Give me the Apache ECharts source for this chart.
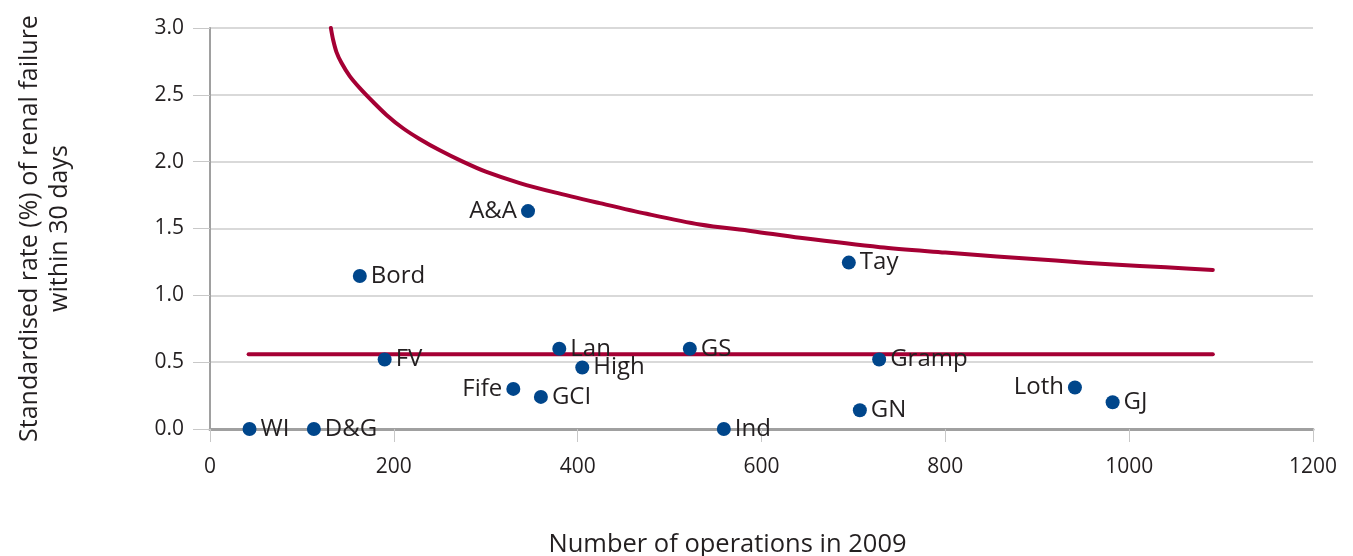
<!DOCTYPE html>
<html>
<head>
<meta charset="utf-8">
<script src="https://cdn.jsdelivr.net/npm/echarts@6/dist/echarts.min.js"></script>
<style>
  html, body { margin: 0; padding: 0; background: #fff; }
  #chart { width: 1353px; height: 556px; }
</style>
</head>
<body>
<div id="chart"></div>
<script>
// health boards: number of operations in 2009 vs standardised rate (%)
const boards = ['WI', 'D&G', 'Bord', 'FV', 'A&A', 'Fife', 'GCI', 'Lan', 'High', 'GS', 'Ind', 'Tay', 'GN', 'Gramp', 'Loth', 'GJ']
const operations = [43, 113, 163, 190, 346, 330, 360, 380, 405, 522, 559, 695, 707, 728, 941, 982]
const rates = [0, 0, 1.145, 0.52, 1.63, 0.30, 0.24, 0.60, 0.46, 0.60, 0, 1.245, 0.14, 0.52, 0.31, 0.20]
// boards whose label sits left of the dot
const labelLeft = ['A&A', 'Fife', 'Loth']

// overall average line
const meanX = [42, 1091]
const meanY = [0.56, 0.56]

// upper control limit
const limitX = [131.5, 134, 137.6, 143, 152, 163, 177, 192, 210, 228, 250, 275, 300, 337, 375, 424, 475, 533, 590, 642, 729, 800, 856, 920, 983, 1040, 1091]
const limitY = [3.0, 2.91, 2.82, 2.74, 2.64, 2.55, 2.45, 2.35, 2.25, 2.17, 2.085, 2.0, 1.925, 1.84, 1.77, 1.69, 1.61, 1.53, 1.48, 1.43, 1.36, 1.32, 1.29, 1.26, 1.23, 1.21, 1.19]

const xTicks = [0, 200, 400, 600, 800, 1000, 1200]

const font = 'Open Sans'
const red = '#a50034'
const blue = '#00468b'
const ink = '#231f20'

const chart = echarts.init(document.getElementById('chart'))

const points = boards.map((b, i) => ({
  name: b,
  value: [operations[i], rates[i]],
  label: { position: labelLeft.includes(b) ? 'left' : 'right' }
}))

chart.setOption({
  animation: false,
  grid: { left: 210, right: 40, top: 28, bottom: 127, outerBoundsMode: 'none' },
  xAxis: {
    type: 'value',
    min: xTicks[0],
    max: xTicks[xTicks.length - 1],
    interval: 200,
    name: 'Number of operations in 2009',
    nameLocation: 'middle',
    nameGap: 103,
    nameTextStyle: { fontFamily: font, fontSize: 25.5, color: ink, padding: [0, 68, 0, 0] },
    axisLine: { lineStyle: { color: '#a0a0a0', width: 3 } },
    axisTick: { show: true, length: 13, lineStyle: { color: '#c8c8c8' } },
    axisLabel: { fontFamily: font, fontSize: 21, color: ink, margin: 28, formatter: v => String(v) },
    splitLine: { show: false }
  },
  yAxis: {
    type: 'value',
    min: 0,
    max: 3,
    interval: 0.5,
    name: 'Standardised rate (%) of renal failure\nwithin 30 days',
    nameLocation: 'middle',
    nameGap: 135,
    nameRotate: 90,
    nameTextStyle: { fontFamily: font, fontSize: 25, color: ink, lineHeight: 30 },
    axisLine: { show: true, lineStyle: { color: '#a0a0a0', width: 2 } },
    axisTick: { show: true, length: 17, lineStyle: { color: '#c8c8c8' } },
    axisLabel: {
      fontFamily: font, fontSize: 21, color: ink, margin: 26,
      formatter: v => v.toFixed(1)
    },
    splitLine: { lineStyle: { color: '#cccccc', width: 1.5 } }
  },
  series: [
    {
      type: 'line',
      data: limitX.map((x, i) => [x, limitY[i]]),
      smooth: 0.3,
      symbol: 'none',
      lineStyle: { color: red, width: 4, cap: 'round', join: 'round' },
      z: 2
    },
    {
      type: 'line',
      data: meanX.map((x, i) => [x, meanY[i]]),
      symbol: 'none',
      lineStyle: { color: red, width: 4, cap: 'round' },
      z: 2
    },
    {
      type: 'scatter',
      data: points,
      symbolSize: 14,
      itemStyle: { color: blue, opacity: 1 },
      label: {
        show: true,
        formatter: p => p.name,
        fontFamily: font,
        fontSize: 24,
        color: ink,
        distance: 4
      },
      z: 3
    }
  ]
})
</script>
</body>
</html>
